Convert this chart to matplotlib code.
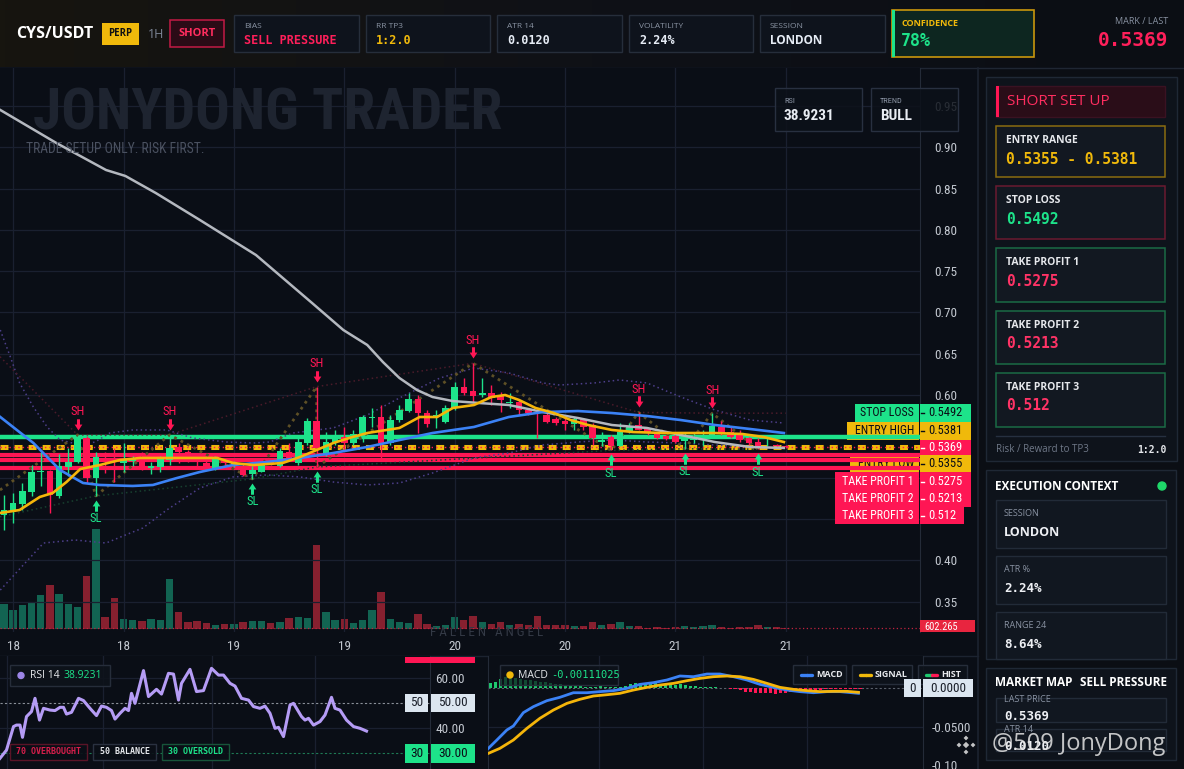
import numpy as np
import matplotlib
matplotlib.use("Agg")
import matplotlib.pyplot as plt
from matplotlib.patches import Rectangle, Circle, Polygon
from matplotlib.path import Path
from matplotlib.transforms import offset_copy
from matplotlib.colors import LinearSegmentedColormap, to_rgba

# ---------------- data ----------------
opens = [.4551, .4580, .4684, .4826, .5067, .5087, .4781, .5124, .5188, .5478,
         .4995, .5237, .5237, .5176, .5208, .5237, .5120, .5128, .5216, .5370,
         .5317, .5249, .5176, .5116, .5216, .5156, .5116, .5047, .5075, .5196,
         .5136, .5317, .5176, .5418, .5692, .5277, .5438, .5498, .5418, .5519,
         .5720, .5732, .5418, .5700, .5813, .5954, .5781, .5748, .5680, .5841,
         .6095, .6051, .6002, .6030, .6002, .5901, .5922, .5821, .5801, .5760,
         .5708, .5692, .5652, .5708, .5640, .5438, .5490, .5378, .5559, .5640,
         .5599, .5531, .5507, .5507, .5450, .5458, .5490, .5498, .5619, .5559,
         .5519, .5478, .5438, .5402, .5398, .5386]
highs = [.4793, .4813, .4934, .5156, .5317, .5090, .5289, .5357, .5519, .5507,
         .5317, .5317, .5357, .5418, .5257, .5317, .5196, .5257, .5519, .5418,
         .5337, .5289, .5216, .5257, .5237, .5208, .5176, .5136, .5196, .5216,
         .5357, .5418, .5478, .5720, .6103, .5559, .5579, .5611, .5579, .5760,
         .5841, .5881, .5760, .5881, .6022, .6002, .5821, .5821, .5881, .6163,
         .6204, .6385, .6204, .6123, .6043, .6022, .5942, .5841, .5841, .5801,
         .5732, .5720, .5740, .5720, .5660, .5559, .5519, .5660, .5660, .5790,
         .5619, .5547, .5519, .5539, .5539, .5539, .5579, .5781, .5692, .5619,
         .5579, .5490, .5478, .5478, .5410, .5398]
lows = [.4370, .4451, .4612, .4773, .4894, .4572, .4753, .5015, .5176, .4934,
        .4779, .5055, .4954, .5075, .5144, .5095, .5047, .5075, .5156, .5176,
        .5196, .5144, .5095, .5095, .5136, .5128, .5015, .4985, .5075, .5156,
        .5128, .5216, .5156, .5398, .5130, .5257, .5398, .5337, .5398, .5438,
        .5619, .5237, .5398, .5680, .5801, .5539, .5611, .5599, .5660, .5821,
        .6002, .5922, .5982, .5881, .5801, .5841, .5760, .5760, .5478, .5660,
        .5640, .5579, .5579, .5579, .5398, .5378, .5330, .5378, .5539, .5579,
        .5519, .5466, .5458, .5418, .5350, .5418, .5378, .5498, .5519, .5478,
        .5438, .5398, .5345, .5378, .5370, .5362]
closes = [.4612, .4692, .4842, .5075, .5083, .4785, .5136, .5196, .5478, .4995,
          .5245, .5208, .5216, .5216, .5237, .5136, .5144, .5224, .5357, .5317,
          .5257, .5196, .5116, .5224, .5176, .5184, .5035, .5095, .5176, .5176,
          .5329, .5237, .5438, .5692, .5357, .5438, .5498, .5418, .5531, .5732,
          .5732, .5418, .5700, .5821, .5954, .5781, .5652, .5760, .5841, .6095,
          .6030, .5994, .6030, .5962, .5942, .5922, .5821, .5781, .5781, .5680,
          .5668, .5652, .5708, .5619, .5478, .5458, .5378, .5559, .5627, .5579,
          .5539, .5478, .5466, .5438, .5466, .5490, .5507, .5627, .5539, .5498,
          .5458, .5418, .5386, .5410, .5378, .5369]
volumes = [11400, 8400, 10950, 11850, 15450, 19950, 15900, 11400, 10050, 24000,
           45150, 5550, 14100, 4650, 4200, 3750, 4650, 3900, 22650, 7800,
           3300, 3750, 2850, 1950, 2400, 2400, 3300, 3750, 3750, 2850,
           3300, 5100, 5550, 5100, 37950, 7800, 4200, 4650, 2850, 4200,
           8700, 16800, 4650, 3300, 2850, 6900, 2400, 1500, 1950, 5550,
           4200, 6000, 3300, 2400, 3300, 1950, 2400, 1950, 6000, 1950,
           1950, 1950, 1500, 1500, 3300, 1950, 2400, 3300, 1500, 1500,
           600, 1050, 600, 1050, 1500, 1050, 1500, 1950, 1050, 600,
           1050, 1050, 1950, 1050, 1050, 602.265]

time_ticks = [1, 13, 25, 37, 49, 61, 73, 85]
time_labels = ["18", "18", "19", "19", "20", "20", "21", "21"]
price_ticks = [0.35, 0.40, 0.45, 0.50, 0.55, 0.60, 0.65, 0.70, 0.75, 0.80, 0.85, 0.90, 0.95]
hidden_ticks = [0.45, 0.50, 0.55]   # covered by the level tags

ema_slow_t = [-0.4, 5.7, 11.1, 13.2, 16.5, 21.3, 27.4, 33.5, 36.9, 39.5, 41.2, 43.0, 44.9,
              46.6, 48.8, 51.7, 54.9, 58.6, 62.4, 66.1, 69.9, 73.6, 77.3, 81.1, 84.8]
ema_slow_v = [.9452, .9052, .8725, .8653, .8447, .8120, .7696, .7115, .6788, .6607, .6401, .6207, .6062,
              .5977, .5928, .5904, .5880, .5795, .5723, .5638, .5602, .5517, .5432, .5372, .5360]
ema_mid_t = [-0.4, 3.2, 6.1, 8.6, 10.4, 14.0, 16.2, 18.8, 21.3, 24.9, 28.6, 32.2, 35.8,
             39.5, 43.0, 46.6, 51.1, 54.9, 58.6, 62.4, 66.1, 69.9, 73.6, 77.3, 81.1, 84.8]
ema_mid_v = [.5735, .5420, .5093, .4936, .4912, .4900, .4912, .4996, .5069, .5154, .5190, .5239, .5299,
             .5372, .5456, .5541, .5614, .5735, .5795, .5807, .5783, .5747, .5698, .5638, .5590, .5541]
ema_fast_t = [-0.4, 1.7, 3.9, 5.3, 6.8, 8.3, 10.4, 12.6, 14.8, 17.7, 21.3, 23.2, 24.9, 27.1,
              30.3, 32.2, 34.0, 35.8, 37.9, 39.5, 43.0, 45.2, 47.1, 48.8, 51.1, 53.0, 54.5,
              56.0, 57.8, 59.8, 61.6, 63.5, 66.1, 68.4, 71.7, 74.3, 77.3, 80.3, 82.6, 84.8]
ema_fast_v = [.4573, .4609, .4767, .4815, .4948, .5105, .5153, .5214, .5239, .5239, .5239, .5239, .5178, .5153,
              .5178, .5251, .5335, .5420, .5493, .5541, .5602, .5735, .5735, .5844, .5880, .5977, .6001,
              .5941, .5844, .5783, .5699, .5638, .5578, .5553, .5541, .5541, .5541, .5529, .5493, .5432]
bb_up_t = [-0.4, 0.7, 1.7, 3.2, 4.7, 6.1, 8.3, 9.9, 11.5, 14.0, 17.7, 20.5, 24.2, 27.1, 28.9, 31.4,
           35.8, 39.5, 43.0, 47.4, 51.1, 54.9, 58.6, 60.4, 64.2, 66.9, 69.9, 73.6, 77.3, 81.1, 84.8]
bb_up_v = [.6788, .6461, .6147, .5856, .5614, .5457, .5396, .5432, .5541, .5578, .5578, .5481, .5432, .5420, .5432, .5541,
           .5602, .5759, .5965, .6207, .6328, .6268, .6147, .6122, .6147, .6183, .6147, .5977, .5820, .5699, .5662]
bb_lo_t = [-0.4, 4.3, 7.7, 11.1, 13.2, 15.1, 17.7, 21.3, 24.9, 28.6, 32.2, 35.8, 39.5,
           43.0, 46.6, 51.1, 54.9, 58.6, 62.4, 66.1, 69.9, 73.6, 77.3, 81.1, 84.8]
bb_lo_v = [.3640, .4209, .4246, .4209, .4306, .4391, .4609, .4875, .5009, .5033, .5009, .4948, .4912,
           .4936, .5057, .5239, .5299, .5396, .5432, .5457, .5432, .5420, .5396, .5372, .5360]

swing_high_idx = [8, 18, 34, 51, 69, 77]
swing_low_idx = [10, 27, 34, 66, 74, 82]
zigzag_start = 0.4851
resist_start = 0.6465
support_start = 0.4527

stop_loss = 0.5492
entry_high = 0.5381
entry_low = 0.5355
last_price = 0.5369
take_profits = [0.5275, 0.5213, 0.512]

rsi_t = [0, 1.3, 2.7, 3.3, 4, 4.5, 5.3, 6.3, 7, 7.9, 8.7, 10, 11, 12, 12.7, 13.3, 14.3, 15.7, 16.7, 18,
         19.3, 20.3, 21.3, 22.3, 23, 24, 25, 25.7, 26.3, 27, 28.7, 29.7, 31.3, 32.3, 33.7, 34.7, 35.7, 36.3, 38, 39.3,
         40.7, 42.3, 43.7, 44.7, 46, 47, 48.3, 49.7, 50.7, 52, 53, 54, 55, 55.7, 56.7, 58, 58.7, 60.3, 61, 61.7,
         62.7, 64, 65, 66.3, 67, 68, 69.3, 70.7, 72, 73.3]
rsi_v = [28.0, 31.3, 40.7, 41.3, 41.3, 36.4, 44.7, 46.7, 52.0, 43.3, 48.0, 47.3, 47.1, 48.4, 48.4, 45.7, 46.4, 52.0, 51.1, 48.0,
         45.1, 48.9, 48.4, 47.1, 43.7, 46.0, 48.0, 47.1, 54.0, 50.0, 63.1, 52.7, 55.6, 53.7, 62.0, 61.7, 51.3, 58.0, 63.6, 54.7,
         55.1, 64.0, 61.3, 61.3, 58.0, 56.9, 52.0, 51.3, 48.7, 48.0, 48.9, 46.0, 40.0, 40.4, 36.7, 49.3, 50.0, 44.7, 43.3, 44.0,
         41.3, 42.7, 45.3, 52.4, 48.0, 47.3, 43.3, 40.7, 40.0, 38.9]
rsi_last = "38.9231"

macd_t = [0, 1.7, 3.7, 5, 7, 9, 11.7, 14.3, 17, 19.7, 22.3, 25, 27.7, 30.3, 33, 35.7, 38.3, 41, 43.7, 46.3,
          49, 51.7, 54.3, 57, 59.7, 62.3, 65, 67.7, 70.3, 74]
macd_v = [-.0783, -.0674, -.0543, -.0491, -.0317, -.0239, -.0161, -.0117, -.0057, -.0057, -.0043, -.0030, 0.0,
          .0052, .0074, .0109, .0161, .0152, .0187, .0187, .0152, .0109, .0052, .0013, -.0022, -.0043, -.0057,
          -.0043, -.0043, -.0065]
signal_t = [0, 2.3, 5, 7.7, 10.3, 13, 15.7, 18.3, 21, 23.7, 26.3, 29, 31.7, 34.3, 37, 39.7, 42.3, 45, 47.7,
            50.3, 53, 55.7, 58.3, 61, 63.7, 66.3, 69, 71.7, 74]
signal_v = [-.0848, -.0783, -.0674, -.0522, -.0391, -.0283, -.0196, -.0143, -.0100, -.0083, -.0065, -.0022,
            .0013, .0043, .0065, .0100, .0130, .0152, .0161, .0152, .0117, .0065, .0013, -.0013, -.0030, -.0043,
            -.0039, -.0039, -.0052]
hist_v = [.0065, .0078, .0117, .0144, .0144, .0131, .0117, .0109, .0109, .0100,
          .0087, .0078, .0065, .0052, .0052, .0044, .0030, .0030, .0030, .0022,
          .0022, .0022, .0030, .0022, .0022, .0013, .0022, .0030, .0052, .0065,
          .0052, .0065, .0052, .0065, .0052, .0044, .0044, .0044, .0052, .0044,
          .0030, .0030, .0022, .0013, .0013, .0022, .0009, .0004, -.0013, -.0013,
          -.0022, -.0044, -.0044, -.0057, -.0057, -.0057, -.0065, -.0074, -.0057, -.0057,
          -.0044, -.0044, -.0030, -.0030, -.0022, -.0022, -.0022, -.0013, -.0013, -.0013,
          -.0013, -.0013, -.0009, -.0009, -.0009]
macd_last = "-0.00111025"

# ---------------- style ----------------
COND = ['Roboto Condensed', 'Liberation Sans Narrow', 'Roboto', 'DejaVu Sans']
SANS = ['Open Sans', 'Lato', 'DejaVu Sans']
MONO = ['DejaVu Sans Mono']
BG = '#0a0e16'
GRID = '#1a2030'
GREEN = '#1de38a'
RED = '#ff1654'
YELLOW = '#f0b90b'
TXT = '#c3c8d0'
SUB = '#8a93a3'

W, H = 1184, 769
fig = plt.figure(figsize=(11.84, 7.69), dpi=100)
fig.patch.set_facecolor(BG)


def px_axes(x0, y0, x1, y1, z):
    return fig.add_axes([x0 / W, 1 - y1 / H, (x1 - x0) / W, (y1 - y0) / H], zorder=z)


def rect(a, x0, y0, x1, y1, fc, ec='none', lw=1.0, z=1, tr=None):
    a.add_patch(Rectangle((x0, y0), x1 - x0, y1 - y0, facecolor=fc, edgecolor=ec,
                          linewidth=lw, zorder=z, transform=tr if tr is not None else a.transData))


def put(a, x, y, s, size, color, family=SANS, weight='normal', ha='left', va='center', z=12, tr=None, alpha=1.0):
    a.text(x, y, s, fontsize=size, color=color, family=family, fontweight=weight, ha=ha, va=va,
           zorder=z, alpha=alpha, transform=tr if tr is not None else a.transData)


# background layer and overlay layer (pixel coordinates)
bg = px_axes(0, 0, W, H, 0)
ui = px_axes(0, 0, W, H, 10)
for a in (bg, ui):
    a.axis('off')
    a.patch.set_alpha(0)

cm_head = LinearSegmentedColormap.from_list('head', ['#17150f', '#0f1117', '#0b0e14'])
bg.imshow(np.linspace(0, 1, 256)[None, :], extent=(0, W, 67, 0), cmap=cm_head, aspect='auto', zorder=1)
rect(bg, 978, 68, W, H, '#0b0e14', z=1)
for a in (bg, ui):
    a.set_xlim(0, W)
    a.set_ylim(H, 0)
bg.plot([0, W], [67.5, 67.5], color='#1f2633', lw=1, zorder=2)
bg.plot([978, 978], [68, H], color='#1c2330', lw=1.2, zorder=2)
bg.plot([0, 978], [655.5, 655.5], color='#1c2330', lw=1, zorder=2)

# ---------------- main price chart ----------------
ax_vol = px_axes(0, 68, 920, 632, 1)
ax = px_axes(0, 68, 920, 632, 2)
ax_vol.set_facecolor(BG)
ax.patch.set_alpha(0)
for a in (ax, ax_vol):
    a.set_xlim(-0.43, 99.6)
    for s in a.spines.values():
        s.set_visible(False)
ax.set_ylim(0.3132, 0.996)
ax_vol.set_ylim(-1354, 253300)
ax_vol.set_xticks([])
ax_vol.set_yticks([])

n = len(closes)
idx = np.arange(n)
up = [c >= o for o, c in zip(opens, closes)]
ax_vol.bar(idx, volumes, width=0.8, color=['#126452' if u else '#86202f' for u in up], zorder=2)
ax_vol.axhline(volumes[-1], color='#c0223f', lw=0.9, ls=(0, (1, 2)), zorder=3)

for p in price_ticks:
    ax.axhline(p, color=GRID, lw=0.9, zorder=0.5)
for t in time_ticks:
    ax.axvline(t, color=GRID, lw=0.9, zorder=0.5)

# trade levels
ax.axhline(stop_loss, color=GREEN, lw=3.2, zorder=2.6)
ax.axhline(entry_high, color=YELLOW, lw=2.2, ls=(0, (2.6, 2.0)), zorder=2.6)
ax.axhline(entry_low, color=YELLOW, lw=2.2, ls=(0, (2.6, 2.0)), zorder=2.6)
ax.axhline(last_price, color=RED, lw=1.0, ls=(0, (1, 2.2)), zorder=2.7)
for tp in take_profits:
    ax.axhline(tp, color=RED, lw=3.0, zorder=2.6)

# indicator lines
ax.plot(bb_up_t, bb_up_v, color='#4d3f8a', lw=1.1, ls=(0, (1, 2)), zorder=3)
ax.plot(bb_lo_t, bb_lo_v, color='#4d3f8a', lw=1.1, ls=(0, (1, 2)), zorder=3)

res_t = [-0.43] + swing_high_idx + [85]
res_v = [resist_start] + [highs[i] for i in swing_high_idx] + [highs[swing_high_idx[-1]]]
ax.plot(res_t, res_v, color='#4a1b2a', lw=1.1, ls=(0, (1, 2)), zorder=3)
sup_t = [-0.43] + swing_low_idx
sup_v = [support_start] + [lows[i] for i in swing_low_idx]
ax.plot(sup_t, sup_v, color='#17402f', lw=1.1, ls=(0, (1, 2)), zorder=3)

pivots = sorted([(i, 0, highs[i]) for i in swing_high_idx] + [(i, 1, lows[i]) for i in swing_low_idx])
zz_t = [-0.43] + [p[0] for p in pivots]
zz_v = [zigzag_start] + [p[2] for p in pivots]
ax.plot(zz_t, zz_v, color='#5e5026', lw=2.0, ls=(0, (1, 1.6)), zorder=3.2)

# candles
for i in range(n):
    col = GREEN if up[i] else RED
    ax.vlines(i, lows[i], highs[i], color=col, lw=1.0, zorder=4)
    lo, hi = min(opens[i], closes[i]), max(opens[i], closes[i])
    ax.bar(i, max(hi - lo, 0.0009), bottom=lo, width=0.72, color=col, zorder=4.1, linewidth=0)

ax.plot(ema_slow_t, ema_slow_v, color='#b4b8bf', lw=1.8, zorder=5)
ax.plot(ema_mid_t, ema_mid_v, color='#3b82f6', lw=1.9, zorder=5)
ax.plot(ema_fast_t, ema_fast_v, color='#f5b50a', lw=1.9, zorder=5.1)

# swing markers
arrow_dn = Path([(-0.24, 1.0), (0.24, 1.0), (0.24, 0.15), (0.62, 0.15), (0.0, -0.8),
                 (-0.62, 0.15), (-0.24, 0.15), (-0.24, 1.0)], closed=True)
arrow_up = Path([(x, -y) for x, y in arrow_dn.vertices], closed=True)
tr_sh_a = offset_copy(ax.transData, fig=fig, x=0, y=10, units='dots')
tr_sh_t = offset_copy(ax.transData, fig=fig, x=0, y=23, units='dots')
tr_sl_a = offset_copy(ax.transData, fig=fig, x=0, y=-9, units='dots')
tr_sl_t = offset_copy(ax.transData, fig=fig, x=0, y=-23, units='dots')
for i in swing_high_idx:
    ax.plot([i], [highs[i]], marker=arrow_dn, ms=9, color=RED, mec='none', transform=tr_sh_a, zorder=6)
    put(ax, i, highs[i], "SH", 9, RED, family=COND, ha='center', tr=tr_sh_t, z=6)
for i in swing_low_idx:
    ax.plot([i], [lows[i]], marker=arrow_up, ms=9, color=GREEN, mec='none', transform=tr_sl_a, zorder=6)
    put(ax, i, lows[i], "SL", 9, GREEN, family=COND, ha='center', tr=tr_sl_t, z=6)

# axes ticks
ax.yaxis.tick_right()
ax.set_yticks(price_ticks)
ax.set_yticklabels(["" if p in hidden_ticks else f"{p:.2f}" for p in price_ticks],
                   family=COND, fontsize=9.5, color=TXT)
ax.set_xticks(time_ticks)
ax.set_xticklabels(time_labels, family=COND, fontsize=9.5, color=TXT)
ax.tick_params(axis='y', length=0, pad=10)
ax.tick_params(axis='x', length=0, pad=6)
ax.spines['right'].set_visible(True)
ax.spines['right'].set_color('#242b38')

# watermark texts in chart
put(ui, 33, 114, "JONYDONG TRADER", 41.5, '#1e2430', family=COND, weight='bold', z=0.5)
put(ui, 26, 149, "TRADE SETUP ONLY. RISK FIRST.", 9.8, '#4a5160', family=COND)
put(ui, 487, 633, "F A L L E N   A N G E L", 9.5, '#333945', family=COND, ha='center')

for x0, x1, lab, val in [(775, 862, "RSI", rsi_last), (871, 958, "TREND", "BULL")]:
    rect(ui, x0, 88, x1, 131, to_rgba('#0c1119', 0.85), ec='#283040', lw=1, z=3)
    put(ui, x0 + 9, 101, lab, 6, SUB, family=COND)
    put(ui, x0 + 9, 116, val, 11, '#e8ecf2', family=COND, weight='bold')

# level labels: name boxes (under level lines) and value boxes
name_boxes = [("STOP LOSS", stop_loss, 855, 404, 422, GREEN, '#0a0e16'),
              ("ENTRY HIGH", entry_high, 847, 422, 440, YELLOW, '#0a0e16'),
              (None, last_price, 919, 440, 455, RED, 'white'),
              ("ENTRY LOW", entry_low, 850, 455, 472, YELLOW, '#0a0e16'),
              ("TAKE PROFIT 1", take_profits[0], 835, 472, 491, RED, 'white'),
              ("TAKE PROFIT 2", take_profits[1], 835, 491, 507, RED, 'white'),
              ("TAKE PROFIT 3", take_profits[2], 835, 507, 524, RED, 'white')]
for name, val, nx0, y0, y1, fc, tc in name_boxes:
    ym = (y0 + y1) / 2
    if name:
        rect(ax, nx0, y0, 919, y1, fc, z=2.2, tr=ui.transData)
        put(ax, 914, ym, name, 8.6, tc, family=COND, ha='right', z=2.3, tr=ui.transData)
    vtxt = f"{val}"
    rect(ui, 920, y0, 920 + 8 + 7.2 * len(vtxt), y1, fc, z=3)
    ui.plot([921, 924], [ym, ym], color=tc, lw=1, zorder=4)
    put(ui, 928, ym, vtxt, 9, tc, family=COND)

rect(ui, 920, 620, 975, 632, '#e8253f', z=3)
put(ui, 924, 627, f"{volumes[-1]}", 7.5, 'white', family=COND)

# ---------------- RSI panel ----------------
ax_rsi = px_axes(0, 656, 430, 769, 2)
ax_rsi.set_facecolor(BG)
ax_rsi.set_xlim(0, 86)
ax_rsi.set_ylim(23.73, 68.93)
for s in ax_rsi.spines.values():
    s.set_visible(False)
ax_rsi.spines['right'].set_visible(True)
ax_rsi.spines['right'].set_color('#242b38')
for t in [1.4, 20.6, 42.4, 63]:
    ax_rsi.axvline(t, color=GRID, lw=0.9)
for v in [40, 60]:
    ax_rsi.axhline(v, color=GRID, lw=0.9)
ax_rsi.axhline(50, color='#8a9099', lw=0.8, ls=(0, (2, 2)))
ax_rsi.axhline(30, color='#1e7a55', lw=0.8, ls=(0, (2, 2)))
ax_rsi.plot(rsi_t, rsi_v, color='#b59cf5', lw=2.2, zorder=3)
ax_rsi.set_xticks([])
ax_rsi.yaxis.tick_right()
ax_rsi.set_yticks([40, 60])
ax_rsi.set_yticklabels(["40.00", "60.00"], family=COND, fontsize=9.5, color=TXT)
ax_rsi.tick_params(axis='y', length=0, pad=4)

rect(ui, 10, 665, 110, 686, to_rgba('#0e131b', 0.9), ec='#262d3a', z=3)
ui.add_patch(Circle((21, 675.5), 3, color='#9d86e8', zorder=4))
put(ui, 30, 675.5, "RSI 14", 7.5, '#e6e8ec', family=SANS)
put(ui, 63, 675.5, rsi_last, 7.5, GREEN, family=SANS)
for x0, x1, s, ec, tc in [(10, 87, "70 OVERBOUGHT", '#5a1427', '#d81e4b'),
                          (93, 156, "50 BALANCE", '#2a3140', '#e6e8ec'),
                          (162, 229, "30 OVERSOLD", '#17553a', GREEN)]:
    rect(ui, x0, 744, x1, 760, to_rgba('#0a0e16', 0.9), ec=ec, z=3)
    put(ui, (x0 + x1) / 2, 752, s, 6, tc, family=MONO, weight='bold', ha='center')
rect(ui, 405, 657, 475, 663, RED, z=3)
for y0, y1, lab, fc, tc in [(694, 712, "50", '#dce6f0', '#1a1f29'), (744, 763, "30", GREEN, '#0a0e16')]:
    rect(ui, 405, y0, 428, y1, fc, z=3)
    rect(ui, 431, y0, 475, y1, fc, z=3)
    put(ui, 416.5, (y0 + y1) / 2, lab, 9.5, tc, family=COND, ha='center')
    put(ui, 453, (y0 + y1) / 2, lab + ".00", 9.5, tc, family=COND, ha='center')

# ---------------- MACD panel ----------------
ax_m = px_axes(488, 656, 923, 769, 2)
ax_m.set_facecolor(BG)
ax_m.set_xlim(-0.07, 86.9)
ax_m.set_ylim(-0.1052, 0.0422)
for s in ax_m.spines.values():
    s.set_visible(False)
for side in ('left', 'right'):
    ax_m.spines[side].set_visible(True)
    ax_m.spines[side].set_color('#242b38')
for t in [22.1, 42.9, 63.7]:
    ax_m.axvline(t, color=GRID, lw=0.9)
ax_m.axhline(-0.05, color=GRID, lw=0.9)
ax_m.axhline(0, color='#5a606b', lw=0.8, ls=(0, (2, 2)))
hist_t = np.arange(len(hist_v)) + 0.33
ax_m.bar(hist_t, hist_v, width=0.6, color=['#1ec86e' if v >= 0 else RED for v in hist_v], zorder=2)
ax_m.plot(macd_t, macd_v, color='#3b82f6', lw=2.0, zorder=3)
ax_m.plot(signal_t, signal_v, color='#f5b50a', lw=2.0, zorder=3)
ax_m.set_xticks([])
ax_m.yaxis.tick_right()
ax_m.set_yticks([-0.10, -0.05])
ax_m.set_yticklabels(["-0.10", "-0.0500"], family=COND, fontsize=9.5, color=TXT)
ax_m.tick_params(axis='y', length=0, pad=6)

rect(ui, 500, 665, 618, 685, to_rgba('#0e131b', 0.7), ec='#262d3a', z=3)
ui.add_patch(Circle((510, 675), 3, color=YELLOW, zorder=4))
put(ui, 518, 675, "MACD", 7.5, '#e6e8ec')
put(ui, 551, 675, macd_last, 7.5, GREEN, family=MONO)
for x0, x1, s, c1, c2 in [(793, 846, "MACD", '#3b82f6', '#3b82f6'),
                          (852, 912, "SIGNAL", YELLOW, YELLOW),
                          (918, 967, "HIST", '#1ec86e', RED)]:
    rect(ui, x0, 665, x1, 684, to_rgba('#0e131b', 0.9), ec='#262d3a', z=3)
    ui.plot([x0 + 8, x0 + 13.5], [674.5, 674.5], color=c1, lw=2.4, zorder=4, solid_capstyle='round')
    ui.plot([x0 + 13.5, x0 + 19], [674.5, 674.5], color=c2, lw=2.4, zorder=4, solid_capstyle='round')
    put(ui, x0 + 23, 674.5, s, 6.5, '#e6e8ec', weight='bold')
rect(ui, 904, 679, 921, 697, '#dce6f0', z=3)
rect(ui, 923, 679, 973, 697, '#dce6f0', z=3)
put(ui, 912.5, 688, "0", 9.5, '#1a1f29', family=COND, ha='center')
put(ui, 948, 688, "0.0000", 9.5, '#1a1f29', family=COND, ha='center')

# ---------------- header ----------------
put(ui, 16, 34, "CYS/USDT", 11.5, 'white', weight='bold')
rect(ui, 102, 23, 139, 45, YELLOW, z=3)
put(ui, 120.5, 34, "PERP", 7, '#111111', ha='center', weight='bold')
put(ui, 148, 34, "1H", 9, '#7d8696')
rect(ui, 170, 20, 224, 47, '#2a0b16', ec='#c21a45', lw=1.1, z=3)
put(ui, 197, 33.5, "SHORT", 8, '#ff2d5f', ha='center', weight='bold')
for x0, x1, lab, val, col, fam in [(234, 359, "BIAS", "SELL PRESSURE", '#ff1f5a', MONO),
                                   (366, 490, "RR TP3", "1:2.0", YELLOW, MONO),
                                   (497, 622, "ATR 14", "0.0120", '#e6ecf5', MONO),
                                   (629, 753, "VOLATILITY", "2.24%", '#e6ecf5', MONO),
                                   (760, 885, "SESSION", "LONDON", '#e6ecf5', SANS)]:
    rect(ui, x0, 15, x1, 52, '#0e131c', ec='#262e3b', lw=1, z=3)
    put(ui, x0 + 10, 26, lab, 6, SUB)
    put(ui, x0 + 10, 40, val, 8.5, col, family=fam, weight='bold')
rect(ui, 892, 10, 1034, 57, '#0d2620', ec='#c9960c', lw=1.2, z=3)
rect(ui, 892, 10, 895, 57, GREEN, z=4)
put(ui, 901, 23, "CONFIDENCE", 6.5, YELLOW, weight='bold')
put(ui, 901, 41, "78%", 12, GREEN, family=MONO, weight='bold')
put(ui, 1168, 22, "MARK / LAST", 6.5, SUB, ha='right')
put(ui, 1168, 40, "0.5369", 14, '#ff1f5a', family=MONO, weight='bold', ha='right')

# ---------------- right panel ----------------
rect(ui, 986, 77, 1177, 461, '#0e131b', ec='#1f2835', lw=1, z=2)
rect(ui, 996, 86, 1165, 117, '#2a0d18', ec='#3a1222', lw=1, z=3)
rect(ui, 996, 86, 999, 117, RED, z=4)
put(ui, 1007, 101.5, "SHORT SET UP", 11, '#ff2d5f')
setup_cards = [(126, 177, "ENTRY RANGE", f"{entry_low} - {entry_high}", YELLOW, '#8a6c10'),
               (186, 239, "STOP LOSS", f"{stop_loss}", GREEN, '#6a1a30'),
               (248, 302, "TAKE PROFIT 1", f"{take_profits[0]}", '#ff3366', '#1b6b45'),
               (311, 364, "TAKE PROFIT 2", f"{take_profits[1]}", '#ff3366', '#1b6b45'),
               (373, 427, "TAKE PROFIT 3", f"{take_profits[2]}", '#ff3366', '#1b6b45')]
for y0, y1, lab, val, vc, ec in setup_cards:
    rect(ui, 996, y0, 1165, y1, '#121821', ec=ec, lw=1.1, z=3)
    put(ui, 1006, y0 + 14.5, lab, 7.5, '#e6e8ec', weight='bold')
    put(ui, 1006, y0 + 33, val, 10.5, vc, family=MONO, weight='bold')
ui.plot([996, 1165], [436, 436], color='#263040', lw=1, zorder=3)
put(ui, 996, 450, "Risk / Reward to TP3", 7, '#6f7888')
put(ui, 1166, 450, "1:2.0", 7, '#e6e8ec', family=MONO, weight='bold', ha='right')

rect(ui, 986, 470, 1176, 659, '#0e131b', ec='#1f2835', lw=1, z=2)
put(ui, 995, 486, "EXECUTION CONTEXT", 8.5, 'white', weight='bold')
ui.add_patch(Circle((1162, 486), 4, color='#1fd86a', zorder=4))
for y0, lab, val, fam in [(500, "SESSION", "LONDON", SANS), (556, "ATR %", "2.24%", MONO),
                          (612, "RANGE 24", "8.64%", MONO)]:
    rect(ui, 996, y0, 1166, min(y0 + 48, 659), '#111720', ec='#222b38', lw=1, z=3)
    put(ui, 1004, y0 + 13, lab, 6.5, SUB)
    put(ui, 1004, y0 + 32, val, 9, '#eef0f4', family=fam, weight='bold')

rect(ui, 986, 668, 1176, 760, '#0e131b', ec='#1f2835', lw=1, z=2)
put(ui, 995, 683, "MARKET MAP", 8.5, 'white', weight='bold')
put(ui, 1167, 683, "SELL PRESSURE", 8.5, 'white', weight='bold', ha='right')
for y0, y1, lab, val in [(698, 722, "LAST PRICE", "0.5369"), (729, 751, "ATR 14", "0.0120")]:
    rect(ui, 996, y0, 1166, y1, '#111720', ec='#222b38', lw=1, z=3)
    put(ui, 1004, y0 + 1, lab, 6.5, SUB)
    put(ui, 1004, y0 + 18, val, 9, '#eef0f4', family=MONO, weight='bold')

# overlay watermark
put(ui, 992, 744, "@509 JonyDong", 17, '#e4e4e4', alpha=0.85, z=20)
for dx, dy, r in [(0, 0, 3.2), (-7, 0, 2.4), (7, 0, 2.4), (0, -7, 2.4), (0, 7, 2.4)]:
    cx, cy = 966 + dx, 745 + dy
    ui.add_patch(Polygon([(cx - r, cy), (cx, cy - r), (cx + r, cy), (cx, cy + r)], closed=True,
                         facecolor='#e4e4e4', alpha=0.85, zorder=20))

fig.savefig("out.png", dpi=100, facecolor=fig.get_facecolor())
